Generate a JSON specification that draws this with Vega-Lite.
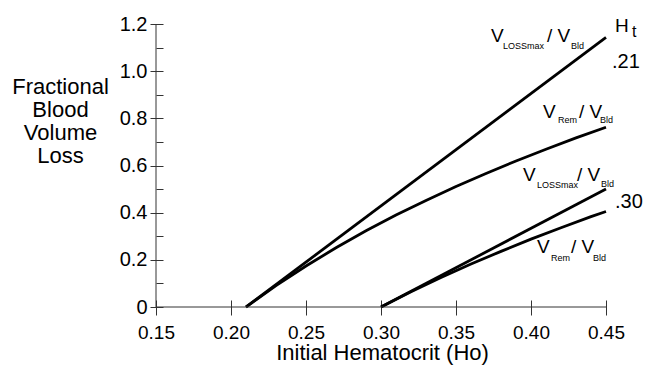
{
  "$schema": "https://vega.github.io/schema/vega-lite/v6.json",
  "width": 450,
  "height": 283,
  "autosize": {"type": "none"},
  "padding": {"left": 156, "top": 24, "right": 39, "bottom": 62},
  "config": {
    "view": {"stroke": null},
    "font": "Liberation Sans",
    "axisX": {
      "grid": false,
      "domain": false,
      "offset": -7,
      "tickSize": 15,
      "tickColor": "#333",
      "tickWidth": 1,
      "labelFontSize": 19,
      "labelColor": "black",
      "labelBaseline": "alphabetic",
      "labelPadding": 23,
      "labelFlush": false,
      "titleFontSize": 22,
      "titleFontWeight": "normal",
      "titleColor": "black",
      "titleAlign": "center",
      "titleBaseline": "alphabetic",
      "titleX": 226,
      "titleY": 59
    },
    "axisY": {
      "grid": false,
      "domain": false,
      "offset": -7,
      "tickWidth": 1,
      "tickColor": "#333",
      "labelFontSize": 20,
      "labelColor": "black",
      "labelPadding": 3,
      "labelFlush": false,
      "labelOverlap": false,
      "titleFontSize": 22,
      "titleFontWeight": "normal",
      "titleColor": "black",
      "titleAngle": 0,
      "titleAlign": "center",
      "titleBaseline": "alphabetic",
      "titleLineHeight": 23,
      "titleX": -103,
      "titleY": 69
    }
  },
  "datasets": {
    "curves": [
      {"ho": 0.21, "loss": 0, "series": "VLOSSmax 0.21"},
      {"ho": 0.45, "loss": 1.143, "series": "VLOSSmax 0.21"},
      {"ho": 0.21, "loss": 0, "series": "VRem 0.21"},
      {"ho": 0.23, "loss": 0.091, "series": "VRem 0.21"},
      {"ho": 0.25, "loss": 0.174, "series": "VRem 0.21"},
      {"ho": 0.27, "loss": 0.251, "series": "VRem 0.21"},
      {"ho": 0.29, "loss": 0.323, "series": "VRem 0.21"},
      {"ho": 0.31, "loss": 0.39, "series": "VRem 0.21"},
      {"ho": 0.33, "loss": 0.452, "series": "VRem 0.21"},
      {"ho": 0.35, "loss": 0.511, "series": "VRem 0.21"},
      {"ho": 0.37, "loss": 0.566, "series": "VRem 0.21"},
      {"ho": 0.39, "loss": 0.619, "series": "VRem 0.21"},
      {"ho": 0.41, "loss": 0.669, "series": "VRem 0.21"},
      {"ho": 0.43, "loss": 0.717, "series": "VRem 0.21"},
      {"ho": 0.45, "loss": 0.762, "series": "VRem 0.21"},
      {"ho": 0.30, "loss": 0, "series": "VLOSSmax 0.30"},
      {"ho": 0.45, "loss": 0.5, "series": "VLOSSmax 0.30"},
      {"ho": 0.30, "loss": 0, "series": "VRem 0.30"},
      {"ho": 0.32, "loss": 0.065, "series": "VRem 0.30"},
      {"ho": 0.34, "loss": 0.125, "series": "VRem 0.30"},
      {"ho": 0.36, "loss": 0.182, "series": "VRem 0.30"},
      {"ho": 0.38, "loss": 0.236, "series": "VRem 0.30"},
      {"ho": 0.40, "loss": 0.288, "series": "VRem 0.30"},
      {"ho": 0.42, "loss": 0.336, "series": "VRem 0.30"},
      {"ho": 0.44, "loss": 0.383, "series": "VRem 0.30"},
      {"ho": 0.45, "loss": 0.405, "series": "VRem 0.30"}
    ],
    "labels": [
      {"ho": 0.37333, "loss": 1.1237, "text": "V", "role": "main"},
      {"ho": 0.38133, "loss": 1.094, "text": "LOSSmax", "role": "sub"},
      {"ho": 0.41067, "loss": 1.1237, "text": "/ V", "role": "main"},
      {"ho": 0.42667, "loss": 1.094, "text": "Bld", "role": "sub"},
      {"ho": 0.408, "loss": 0.8014, "text": "V", "role": "main"},
      {"ho": 0.418, "loss": 0.7802, "text": "Rem", "role": "sub"},
      {"ho": 0.432, "loss": 0.8014, "text": "/ V", "role": "main"},
      {"ho": 0.446, "loss": 0.7802, "text": "Bld", "role": "sub"},
      {"ho": 0.39467, "loss": 0.5343, "text": "V", "role": "main"},
      {"ho": 0.404, "loss": 0.5046, "text": "LOSSmax", "role": "sub"},
      {"ho": 0.43067, "loss": 0.5343, "text": "/ V", "role": "main"},
      {"ho": 0.44667, "loss": 0.5088, "text": "Bld", "role": "sub"},
      {"ho": 0.404, "loss": 0.229, "text": "V", "role": "main"},
      {"ho": 0.41333, "loss": 0.1951, "text": "Rem", "role": "sub"},
      {"ho": 0.42667, "loss": 0.229, "text": "/ V", "role": "main"},
      {"ho": 0.44133, "loss": 0.1951, "text": "Bld", "role": "sub"},
      {"ho": 0.456, "loss": 1.1661, "text": "H", "role": "head"},
      {"ho": 0.46733, "loss": 1.1449, "text": "t", "role": "headsub"},
      {"ho": 0.454, "loss": 1.0134, "text": ".21", "role": "ht"},
      {"ho": 0.456, "loss": 0.4198, "text": ".30", "role": "ht"}
    ]
  },
  "layer": [
    {
      "data": {"name": "curves"},
      "mark": {"type": "line", "color": "black", "strokeWidth": 2.8, "strokeCap": "butt"},
      "encoding": {
        "x": {
          "field": "ho", "type": "quantitative",
          "scale": {"domain": [0.15, 0.45], "nice": false, "zero": false},
          "axis": {
            "values": [0.15, 0.2, 0.25, 0.3, 0.35, 0.4, 0.45],
            "tickCount": 20,
            "format": ".2f",
            "title": "Initial Hematocrit (Ho)"
          }
        },
        "y": {
          "field": "loss", "type": "quantitative",
          "scale": {"domain": [0, 1.2], "nice": false},
          "axis": {
            "values": [0, 0.1, 0.2, 0.3, 0.4, 0.5, 0.6, 0.7, 0.8, 0.9, 1.0, 1.1, 1.2],
            "tickCount": 20,
            "labelExpr": "round(datum.value*10)%2==0 ? (datum.value==0 ? '0' : format(datum.value,'.1f')) : ''",
            "tickSize": {"condition": {"test": "round(datum.value*10)%2==0", "value": 13}, "value": 7},
            "title": ["Fractional", "Blood", "Volume", "Loss"]
          }
        },
        "detail": {"field": "series", "type": "nominal"}
      }
    },
    {
      "data": {"values": [{}]},
      "mark": {"type": "rule", "color": "#333", "strokeWidth": 1},
      "encoding": {
        "x": {
          "datum": 0.15, "type": "quantitative",
          "axis": {
            "values": [0.15, 0.2, 0.25, 0.3, 0.35, 0.4, 0.45],
            "tickCount": 20,
            "format": ".2f",
            "title": "Initial Hematocrit (Ho)"
          }
        }
      }
    },
    {
      "data": {"values": [{}]},
      "mark": {"type": "rule", "color": "#333", "strokeWidth": 1},
      "encoding": {
        "y": {
          "datum": 0, "type": "quantitative",
          "axis": {
            "values": [0, 0.1, 0.2, 0.3, 0.4, 0.5, 0.6, 0.7, 0.8, 0.9, 1.0, 1.1, 1.2],
            "tickCount": 20,
            "labelExpr": "round(datum.value*10)%2==0 ? (datum.value==0 ? '0' : format(datum.value,'.1f')) : ''",
            "tickSize": {"condition": {"test": "round(datum.value*10)%2==0", "value": 13}, "value": 7},
            "title": ["Fractional", "Blood", "Volume", "Loss"]
          }
        }
      }
    },
    {
      "data": {"name": "labels"},
      "transform": [{"filter": "datum.role == 'main'"}],
      "mark": {"type": "text", "align": "left", "baseline": "alphabetic", "fontSize": 19, "color": "black"},
      "encoding": {
        "x": {"field": "ho", "type": "quantitative"},
        "y": {"field": "loss", "type": "quantitative"},
        "text": {"field": "text"}
      }
    },
    {
      "data": {"name": "labels"},
      "transform": [{"filter": "datum.role == 'sub'"}],
      "mark": {"type": "text", "align": "left", "baseline": "alphabetic", "fontSize": 9, "color": "black"},
      "encoding": {
        "x": {"field": "ho", "type": "quantitative"},
        "y": {"field": "loss", "type": "quantitative"},
        "text": {"field": "text"}
      }
    },
    {
      "data": {"name": "labels"},
      "transform": [{"filter": "datum.role == 'head'"}],
      "mark": {"type": "text", "align": "left", "baseline": "alphabetic", "fontSize": 19, "color": "black"},
      "encoding": {
        "x": {"field": "ho", "type": "quantitative"},
        "y": {"field": "loss", "type": "quantitative"},
        "text": {"field": "text"}
      }
    },
    {
      "data": {"name": "labels"},
      "transform": [{"filter": "datum.role == 'headsub'"}],
      "mark": {"type": "text", "align": "left", "baseline": "alphabetic", "fontSize": 16, "color": "black"},
      "encoding": {
        "x": {"field": "ho", "type": "quantitative"},
        "y": {"field": "loss", "type": "quantitative"},
        "text": {"field": "text"}
      }
    },
    {
      "data": {"name": "labels"},
      "transform": [{"filter": "datum.role == 'ht'"}],
      "mark": {"type": "text", "align": "left", "baseline": "alphabetic", "fontSize": 20, "color": "black"},
      "encoding": {
        "x": {"field": "ho", "type": "quantitative"},
        "y": {"field": "loss", "type": "quantitative"},
        "text": {"field": "text"}
      }
    }
  ]
}
